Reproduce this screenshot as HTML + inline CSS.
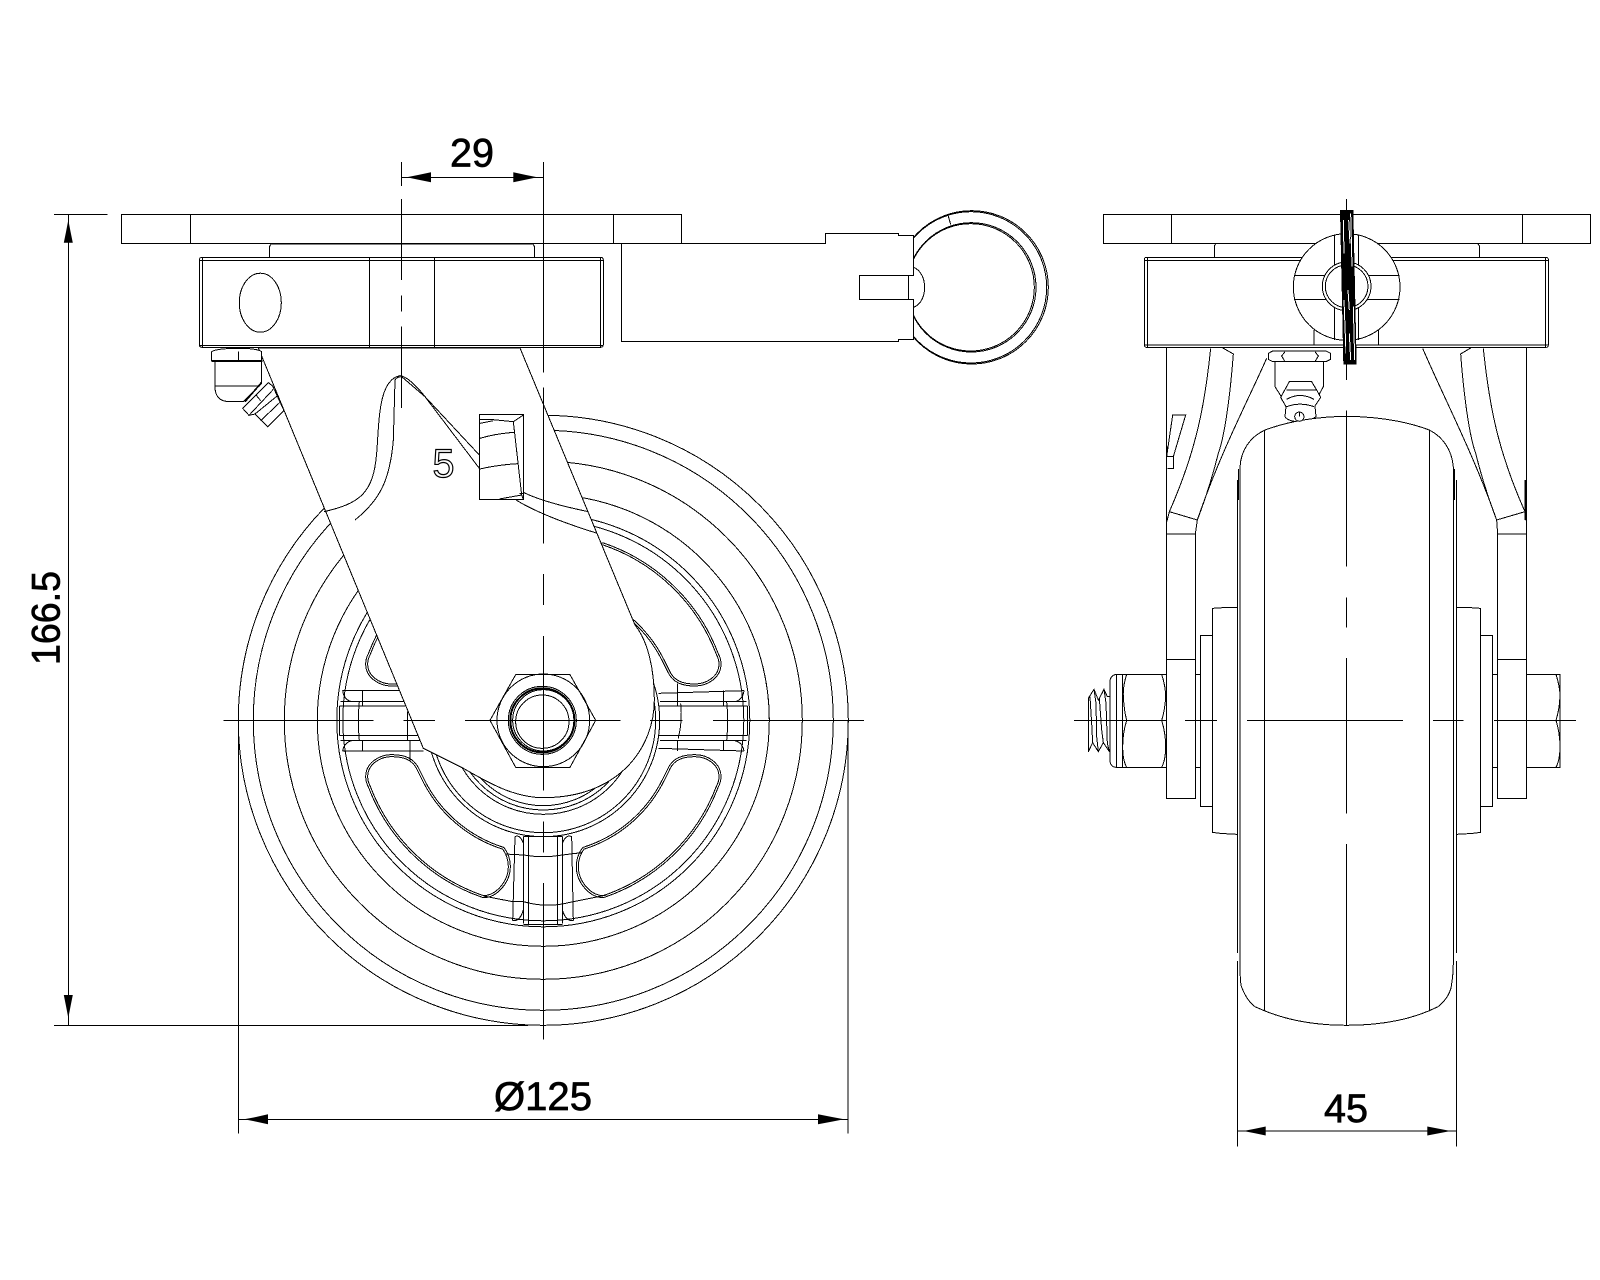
<!DOCTYPE html>
<html><head><meta charset="utf-8"><style>
html,body{margin:0;padding:0;background:#fff}
svg{display:block}
svg *{vector-effect:non-scaling-stroke}
.l{fill:none;stroke:#000;stroke-width:1}
.w{fill:#fff;stroke:#000;stroke-width:1}
.t{font-family:"Liberation Sans",sans-serif;font-size:40px;fill:#000;stroke:#000;stroke-width:.7}
.db1{fill:#fff;stroke:#000;stroke-width:3}
.db2{fill:none;stroke:#fff;stroke-width:1}
</style></head><body>
<svg xmlns="http://www.w3.org/2000/svg" width="1600" height="1280" viewBox="0 0 1600 1280" shape-rendering="crispEdges">
<rect width="1600" height="1280" fill="#fff"/>

<!-- LEFT VIEW: wheel -->
<g class="l">
<circle cx="543.3" cy="720.3" r="305"/><circle cx="543.3" cy="720.3" r="290"/><circle cx="543.3" cy="720.3" r="259"/><circle cx="543.3" cy="720.3" r="226"/><circle cx="543.3" cy="720.3" r="206.5"/><circle cx="543.3" cy="720.3" r="200.5"/>
</g>
<g transform="translate(320,580) scale(.33333)">
  <!-- windows -->
  <g id="win1"><path class="db1" d="M140,590 C140,550 180,527 215,527 C250,527 280,535 295,570 L310,600 A402,402 0 0 0 550,805 C565,825 568,845 568,860 C568,905 530,950 490,950 A558,558 0 0 1 148,620 Q140,605 140,590Z"/><path class="db2" d="M140,590 C140,550 180,527 215,527 C250,527 280,535 295,570 L310,600 A402,402 0 0 0 550,805 C565,825 568,845 568,860 C568,905 530,950 490,950 A558,558 0 0 1 148,620 Q140,605 140,590Z"/></g>
  <g transform="matrix(-1 0 0 1 1340 0)"><path class="db1" d="M140,590 C140,550 180,527 215,527 C250,527 280,535 295,570 L310,600 A402,402 0 0 0 550,805 C565,825 568,845 568,860 C568,905 530,950 490,950 A558,558 0 0 1 148,620 Q140,605 140,590Z"/><path class="db2" d="M140,590 C140,550 180,527 215,527 C250,527 280,535 295,570 L310,600 A402,402 0 0 0 550,805 C565,825 568,845 568,860 C568,905 530,950 490,950 A558,558 0 0 1 148,620 Q140,605 140,590Z"/></g>
  <g transform="matrix(1 0 0 -1 0 842)"><path class="db1" d="M140,590 C140,550 180,527 215,527 C250,527 280,535 295,570 L310,600 A402,402 0 0 0 550,805 C565,825 568,845 568,860 C568,905 530,950 490,950 A558,558 0 0 1 148,620 Q140,605 140,590Z"/><path class="db2" d="M140,590 C140,550 180,527 215,527 C250,527 280,535 295,570 L310,600 A402,402 0 0 0 550,805 C565,825 568,845 568,860 C568,905 530,950 490,950 A558,558 0 0 1 148,620 Q140,605 140,590Z"/></g>
  <g transform="matrix(-1 0 0 -1 1340 842)"><path class="db1" d="M140,590 C140,550 180,527 215,527 C250,527 280,535 295,570 L310,600 A402,402 0 0 0 550,805 C565,825 568,845 568,860 C568,905 530,950 490,950 A558,558 0 0 1 148,620 Q140,605 140,590Z"/><path class="db2" d="M140,590 C140,550 180,527 215,527 C250,527 280,535 295,570 L310,600 A402,402 0 0 0 550,805 C565,825 568,845 568,860 C568,905 530,950 490,950 A558,558 0 0 1 148,620 Q140,605 140,590Z"/></g>
  <!-- hub rings -->
  <g class="l">
  <circle cx="670" cy="421" r="256"/><circle cx="670" cy="421" r="269"/><circle cx="670" cy="421" r="282"/><circle cx="670" cy="421" r="337"/><circle cx="670" cy="421" r="349"/>
  <!-- left spoke -->
  <path d="M68,332H240M58,378H255M58,467H295M68,513H310M62,482H305M62,365H250"/>
  <path d="M68,332Q72,360 95,365M68,513Q72,488 95,482M127,332V378M127,482V513M118,365Q112,421 118,482M262,395V482M270,482V545M58,378V467"/>
  <!-- right spoke -->
  <path d="M1015,340L1272,332M1015,378H1282M1015,467H1282M1015,505L1272,513M1020,365H1280M1020,482H1280"/>
  <path d="M1272,332Q1268,360 1245,365M1272,513Q1268,488 1245,482M1073,310V378M1073,482V513M1082,370Q1088,421 1075,475M1220,365Q1226,421 1220,482M1210,332V378M1210,482V513M1282,378V467"/>
  <!-- bottom spoke -->
  <path d="M585,770L578,1022M610,770V1030M625,770V1033M713,770V1033M727,770V1030M755,770L760,1022"/>
  <path d="M555,822L610,825Q670,835 727,825L785,818M490,948L578,965H610Q670,982 727,972L760,965L860,945M610,1033H727M578,1022Q600,1025 610,990M760,1022Q738,1025 727,990M585,770Q600,762 610,790M755,770Q738,762 727,790M610,770H727"/>
  </g>
  <!-- yoke -->
  <path class="w" d="M-185,-696L600,-696L945,135C985,185 1003,270 1003,360C1003,500 900,653 670,653C580,653 500,605 430,565L310,505Z"/>
  <!-- nut -->
  <g class="l">
  <polygon points="510,421 587,284 750,284 827,421 750,562 587,562"/>
  <circle cx="670" cy="421" r="139"/>
  <circle cx="667" cy="421" r="102" stroke-width="1"/><circle cx="667" cy="421" r="96" stroke-width="2"/><circle cx="667" cy="425" r="80" /><circle cx="670" cy="421" r="92"/>
  </g>
</g>

<!-- notch & stop -->
<g transform="translate(100,120) scale(.33333)" class="l">
  <path d="M672,1175C780,1150 820,1120 830,1000C838,900 835,780 900,767C925,770 960,810 975,830L1138,1045"/>
  <path d="M765,1200C840,1140 870,1080 880,960L885,780Q890,770 905,770L975,830L1138,1005"/>
</g>
<g transform="translate(460,340) scale(.33333)" class="l">
  <rect x="58" y="223" width="132" height="255" fill="#fff"/>
  <path d="M160,245L185,465M190,225L160,245M60,238H90L160,245M60,250L100,242M60,295Q110,280 165,277M60,387Q110,375 173,371M118,477L185,465L190,478M178,460H190"/>
  <path d="M190,457Q250,487 385,515M168,480Q250,530 412,580"/>
</g>
<text x="443.5" y="477" text-anchor="middle" style="font-family:'Liberation Sans',sans-serif;font-size:40px;fill:#fff;stroke:#000;stroke-width:1.2" textLength="22" lengthAdjust="spacingAndGlyphs">5</text>

<!-- top: plate, collar, housing -->
<g class="l">
<rect x="121.3" y="214.3" width="560" height="29" fill="#fff"/>
<path d="M190.3,214.3V243.3M613.3,214.3V243.3"/>
<path d="M269.3,257.3V247L271,244H533L534.7,247V257.3"/>
<rect x="199.3" y="257.3" width="404" height="90" rx="2.5" fill="#fff"/>
<path d="M199.3,260.3H603.3M199.3,345.5H603.3M202.6,257.3V347.3M600.3,257.3V347.3M369.3,257.3V347.3M434.3,257.3V347.3"/>
<ellipse cx="260.3" cy="302.7" rx="21" ry="29.5"/>
</g>

<!-- lever and ring -->
<g transform="translate(600,190) scale(.33333)">
  <g class="l">
  <circle cx="1115" cy="292" r="230"/><circle cx="1113" cy="292" r="227"/>
  <circle cx="1114" cy="292" r="194" stroke-width="1"/><circle cx="1112" cy="292" r="191"/>
  <path d="M1043,72L1052,103"/>
  </g>
  <rect x="778" y="256" width="163" height="72" fill="#fff"/>
  <path class="l" d="M941,232C985,250 985,335 941,352"/>
  <path class="w" d="M65,160H677V130H895V136H941V256H778V328H941V448H895V454H65Z"/>
  <path class="l" d="M926,256V328"/>
</g>

<!-- grease nipple left view -->
<g transform="translate(200,340) scale(.33333)" class="l">
  <path fill="#fff" d="M45,65V140Q45,185 90,185H130L185,130V65Z"/>
  <path d="M45,138H180"/>
  <path d="M135,185L185,127" stroke-width="1.6"/>
  <path fill="#fff" d="M35,35Q50,25 120,25Q170,25 185,35V62H35Z"/>
  <path d="M115,35V62"/>
  <path d="M35,63H188" stroke-width="1.6"/>
  <path fill="#fff" d="M128,205L205,128L218,138L252,212L203,260L165,222L147,226Z"/>
  <path d="M147,226L220,148M165,222L235,165M182,242L242,185M168,165L182,182"/>
</g>

<!-- RIGHT VIEW -->
<g class="l">
<rect x="1103.3" y="214.3" width="487.4" height="29" fill="#fff"/>
<path d="M1171.3,214.3V243.3M1522.7,214.3V243.3"/>
</g>
<g transform="translate(1090,190) scale(.33333)" class="l">
  <path d="M373,202V168L378,160H1163L1168,168V202"/>
  <rect x="163" y="202" width="1212" height="270" rx="6" fill="#fff"/>
  <path d="M163,212H1375M163,465H1375M172,202V472M1367,202V472"/>
  <path d="M672,420V465M865,420V465"/>
  <!-- legs & gussets -->
  <path d="M229,472V1824M316,1032V1824M229,1032H316M1310,472V1824M1223,1032V1824M1223,1032H1310"/>
  <path d="M362,475C345,640 320,780 238,965L229,1000M395,472L430,492C425,560 410,720 385,790C370,850 345,930 322,990L316,1032M530,505C470,640 390,790 322,990M238,965L322,990"/>
  <path d="M1180,475C1197,640 1222,780 1305,965L1310,1000M1145,472L1112,492C1117,560 1132,720 1157,790C1172,850 1197,930 1220,990L1223,1032M998,475C1060,620 1150,790 1220,990M1305,965L1220,990"/>
  <path d="M248,675H287L250,800H230ZM230,800H250V835H232M232,770L229,820"/>
  <path d="M1307,870V990" stroke-width="2"/>
  <!-- nipple -->
  <path fill="#fff" d="M555,515V590L590,645H670L700,590V515Z"/>
  <path fill="#fff" d="M535,490L548,483H708L722,490V508L708,515H548L535,508Z"/>
  <path d="M585,485L575,498L585,515M675,485L685,498L675,515"/>
  <path fill="#fff" d="M598,575H665L680,600L692,622L675,648L678,680Q660,695 628,695Q595,695 585,680L588,650L572,622Z"/>
  <path d="M590,600H680M590,628Q630,605 672,628M590,650Q630,635 672,650"/>
  <!-- ring -->
  <circle cx="770" cy="291" r="160" fill="#fff"/>
  <path d="M733,135V450M805,135V450M612,256H928M612,328H928"/>
  <circle cx="770" cy="289" r="73" fill="#fff"/><circle cx="770" cy="289" r="64" fill="#fff"/>
</g>
<!-- right tire -->
<g class="l">
<path fill="#fff" d="M1346.5,416.3Q1300,417 1265,430C1250,437 1241,450 1240,467V963Q1240,985 1242,988C1246,998 1250,1003 1255,1006.7L1264.3,1010.7Q1300,1025.3 1346.7,1025.3Q1395,1025.3 1429.3,1010.7L1438,1006.7C1444,1002 1449,995 1451,988Q1453.3,975 1453.3,963V467C1452,450 1443,437 1429.3,430Q1395,417 1346.5,416.3Z"/>
<path d="M1264.3,430V1010.7M1429.3,430V1010.7"/>
<path d="M1237.3,480V953M1456.7,480V953M1238.5,469V500M1454.5,469V500"/>
</g>
<g transform="translate(1090,190) scale(.33333)">
  <circle cx="628" cy="680" r="14" class="w"/>
  <path class="l" d="M628,668V680"/>
</g>
<!-- handle strip seen edge-on -->
<g transform="translate(1320,200) scale(.33333)">
  <polygon points="60,30 100,30 110,493 70,493" fill="#000"/>
  <path d="M70,60L72,160M72,300L78,460M86,60L90,130M84,270L88,330M92,40L96,200M100,320L104,480M88,400L92,480" stroke="#fff" stroke-width="1" fill="none"/>
</g>

<!-- axle -->
<g transform="translate(1070,590) scale(.33333)" class="l">
  <path fill="#fff" d="M289,208H377V625H289Z"/>
  <path fill="#fff" d="M1282,208H1369V625H1282Z"/>
  <path d="M377,253H391M377,532H391M1268,253H1282M1268,532H1282"/>
  <rect x="391" y="136" width="36" height="513" fill="#fff"/>
  <rect x="1232" y="136" width="36" height="513" fill="#fff"/>
  <path d="M501,52L465,52Q445,55 427,55V727Q445,730 465,731L501,733"/>
  <path d="M1160,52L1195,52Q1215,55 1232,55V727Q1215,730 1195,731L1160,733"/>
  <path d="M137,253H289M137,532H289M137,253Q120,258 120,275V510Q120,530 137,532M140,253V532M157,253V532"/>
  <path d="M170,253Q158,290 160,320Q162,360 170,391Q158,430 158,470Q158,510 170,532M275,253Q287,290 287,320Q285,360 275,391Q287,430 287,470Q287,510 275,532"/>
  <path d="M1369,253H1470V532H1369M1458,253Q1470,290 1470,320Q1468,360 1458,391Q1470,430 1470,470Q1470,510 1458,532"/>
  <path d="M120,320L112,320L102,298L88,325L85,330L72,298L55,325V485L68,458L85,485L100,458L118,485H120"/>
  <path d="M72,298L78,340L80,440L85,485M102,298L108,340L112,460L118,485M60,320L65,400L68,458M88,325L95,420L100,458"/>
</g>

<!-- centre lines -->
<g class="l">
<path d="M401.7,162V186M401.7,199V280M401.7,295.7V311.7M401.7,326.7V408"/>
<path d="M543.3,162V372.3M543.3,387.3V543.3M543.3,574V605M543.3,636V790.7M543.3,821.7V852.7M543.3,883V1039.7"/>
<path d="M223.5,720.3H373.3M403.3,720.3H435M465,720.3H620.7M650,720.3H682.7M713,720.3H864"/>
<path d="M1346.3,199V380M1346.3,410.7V566.7M1346.3,597.3V627.7M1346.3,658V813.3M1346.3,844V1025.3"/>
<path d="M1074,720.3H1166.7M1185,720.3H1217M1247,720.3H1403M1433,720.3H1463.7M1494,720.3H1576"/>
</g>

<!-- dimensions -->
<g class="l">
<path d="M401.7,177.3H543.3"/>
<path d="M54,214.3H107.7M54,1025.3H528M68.3,214.3V1025.3"/>
<path d="M238.3,720V1133.7M848,720V1133.7M238.3,1119.3H848"/>
<path d="M1237.3,961V1146.7M1456.7,961V1146.7M1237.3,1131H1456.7"/>
</g>
<g fill="#000" stroke="none" shape-rendering="auto">
<polygon points="406.7,177.3 418,175 431,172.3 431,182.3 418,179.6"/><polygon points="537.3,177.3 526,175 513.3,172.3 513.3,182.3 526,179.6"/>
<polygon points="68.3,220 66,232 63.8,242.7 72.8,242.7 70.6,232"/><polygon points="68.3,1018 66,1006 63.8,995 72.8,995 70.6,1006"/>
<polygon points="244,1119.3 256,1117 268,1114.3 268,1124.3 256,1121.6"/><polygon points="844,1119.3 832,1117 818,1114.3 818,1124.3 832,1121.6"/>
<polygon points="1243.3,1131 1255,1128.8 1265.7,1126.5 1265.7,1135.5 1255,1133.2"/><polygon points="1450.7,1131 1439,1128.8 1427.3,1126.5 1427.3,1135.5 1439,1133.2"/>
</g>
<g shape-rendering="auto">
<text class="t" x="472" y="166.7" text-anchor="middle" textLength="44" lengthAdjust="spacingAndGlyphs">29</text>
<text class="t" x="543" y="1110" text-anchor="middle" textLength="98" lengthAdjust="spacingAndGlyphs">Ø125</text>
<text class="t" x="1346" y="1122" text-anchor="middle" textLength="44" lengthAdjust="spacingAndGlyphs">45</text>
<text class="t" transform="translate(59.3,618) rotate(-90)" x="0" y="0" text-anchor="middle" textLength="94" lengthAdjust="spacingAndGlyphs">166.5</text>
</g>
</svg>
</body></html>
